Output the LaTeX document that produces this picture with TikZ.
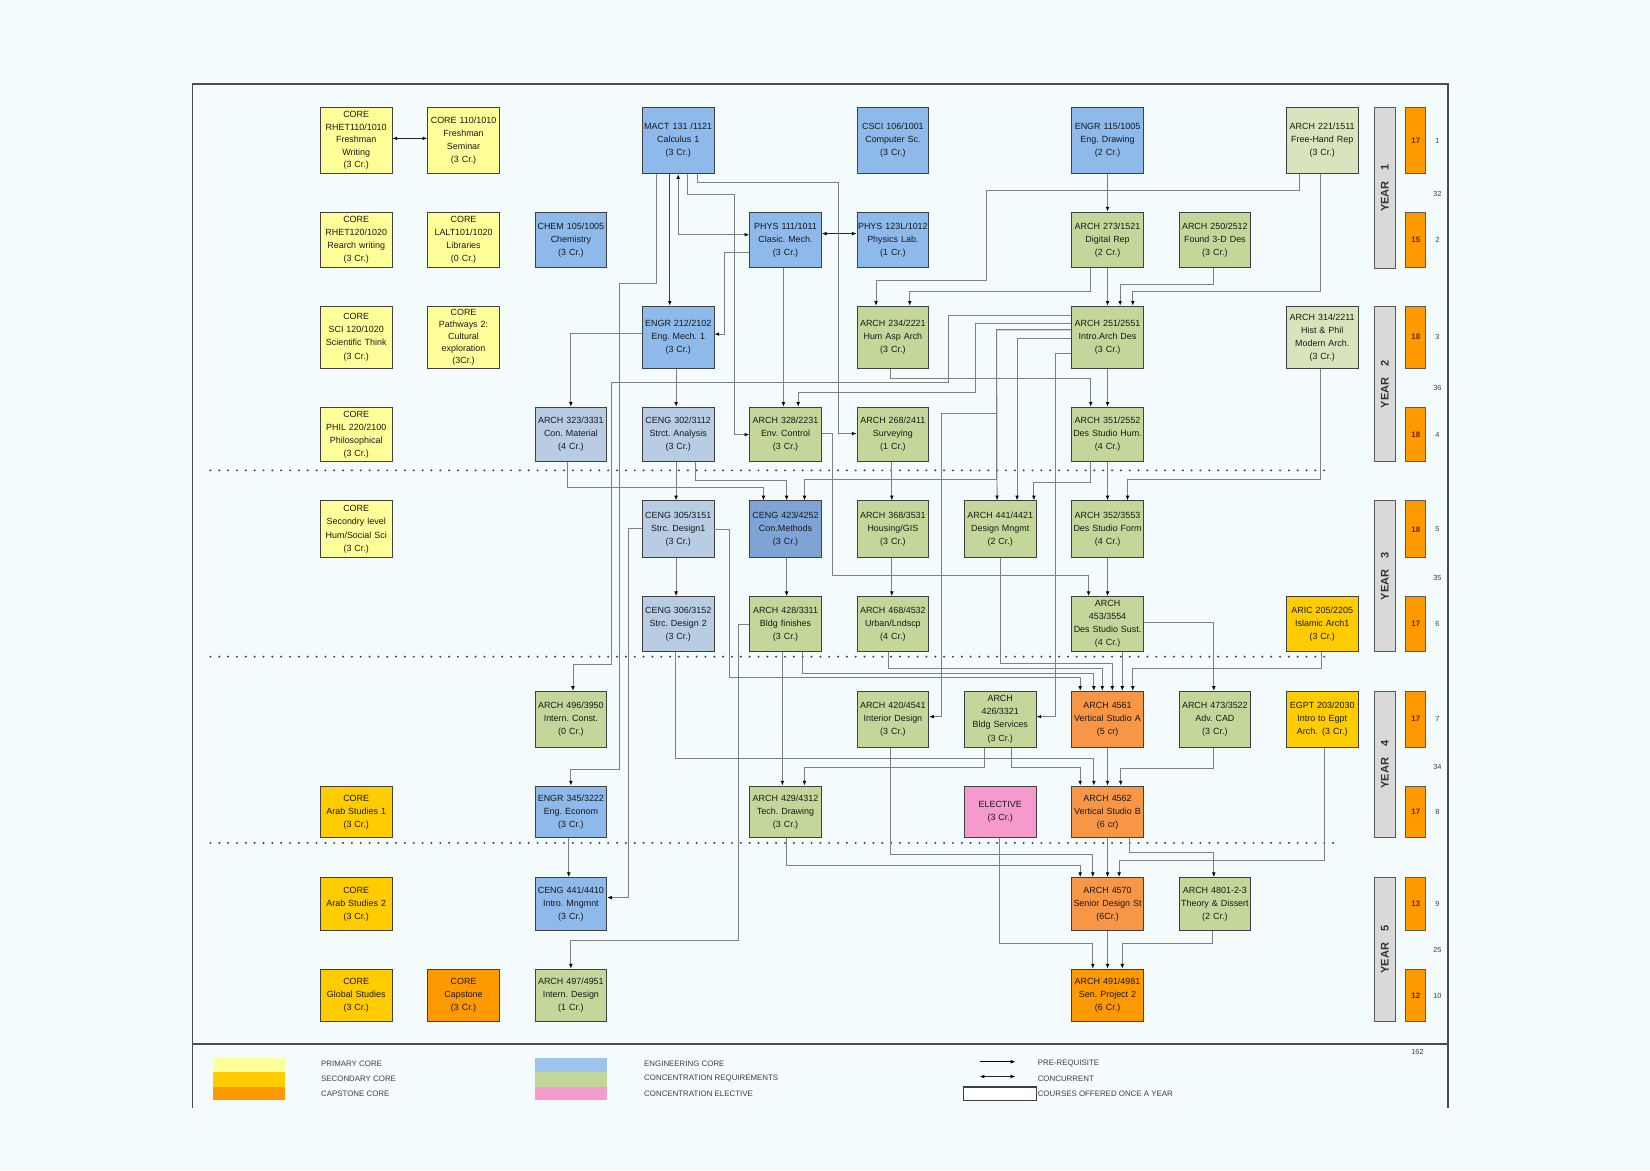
\documentclass[tikz,border=0pt]{standalone}
\usepackage{fontspec}
\setmainfont{Liberation Sans}
\usetikzlibrary{arrows.meta}
\definecolor{bgc}{RGB}{244,251,252}
\definecolor{pcol}{RGB}{255,255,153}
\definecolor{scol}{RGB}{255,204,0}
\definecolor{ccol}{RGB}{255,153,0}
\definecolor{stcol}{RGB}{247,150,70}
\definecolor{ecol}{RGB}{141,185,235}
\definecolor{lscol}{RGB}{184,204,228}
\definecolor{mbcol}{RGB}{126,164,214}
\definecolor{gcol}{RGB}{196,215,155}
\definecolor{pgcol}{RGB}{216,228,188}
\definecolor{pkcol}{RGB}{244,154,204}
\definecolor{yrcol}{RGB}{217,217,217}
\definecolor{lncol}{RGB}{128,128,128}
\definecolor{crdtxt}{RGB}{120,30,0}
\frenchspacing
\begin{document}
\begin{tikzpicture}[x=1pt,y=-1pt,font=\fontsize{8.5}{12.4}\selectfont,
  crs/.style={draw=black!75,line width=0.9pt,text width=68pt,minimum width=68pt,align=center,inner sep=0pt,text=black!90},
  pc/.style={crs,fill=pcol},sc/.style={crs,fill=scol},cc/.style={crs,fill=ccol},st/.style={crs,fill=stcol},
  ec/.style={crs,fill=ecol},ls/.style={crs,fill=lscol},mb/.style={crs,fill=mbcol},
  cr/.style={crs,fill=gcol},pg/.style={crs,fill=pgcol},el/.style={crs,fill=pkcol},
  yr/.style={draw=black!65,line width=0.9pt,fill=yrcol,minimum height=20pt,inner sep=0pt,font=\fontsize{10.5}{12}\selectfont\bfseries,text=black!80},
  crd/.style={draw=black!65,line width=0.9pt,fill=ccol,minimum width=19pt,inner sep=0pt,font=\fontsize{7.5}{8}\selectfont\bfseries,text=crdtxt},
  num/.style={inner sep=0pt,font=\fontsize{7}{8}\selectfont,text=black!75},
  lg/.style={anchor=west,inner sep=0pt,font=\fontsize{7.5}{8}\selectfont,text=black!75},
  pq/.style={draw=lncol,line width=0.9pt,-{Latex[length=4.5pt,width=3.6pt,color=black]}},
  cq/.style={draw=black!85,line width=0.9pt,{Latex[length=4.5pt,width=3.6pt,color=black]}-{Latex[length=4.5pt,width=3.6pt,color=black]}},
  dots/.style={draw=black!75,line width=2.1pt,line cap=round,dash pattern=on 0pt off 8.4pt}]
  \useasboundingbox (0,0) rectangle (1568,1112);
  \fill[bgc] (0,0) rectangle (1568,1112);
  \draw[line width=1.4pt,draw=black!70] (183,1053) -- (183,80) -- (1376,80) -- (1376,1053);
  \draw[line width=1.4pt,draw=black!70] (183,992) -- (1376,992);
  \draw[dots] (200,447) -- (1260,447);
  \draw[dots] (200,624) -- (1260,624);
  \draw[dots] (200,801) -- (1270,801);
  \node[pc,minimum height=63pt,font=\fontsize{8.5}{12}\selectfont] (a1) at (338.5,133.5){CORE\\RHET110/1010\\Freshman\\Writing\\(3 Cr.)};
  \node[pc,minimum height=63pt] (a2) at (440.5,133.5){CORE 110/1010\\Freshman\\Seminar\\(3 Cr.)};
  \node[ec,minimum height=63pt] (a4) at (644.5,133.5){MACT 131 /1121\\Calculus 1\\(3 Cr.)};
  \node[ec,minimum height=63pt] (a6) at (848.5,133.5){CSCI 106/1001\\Computer Sc.\\(3 Cr.)};
  \node[ec,minimum height=63pt] (a8) at (1052.5,133.5){ENGR 115/1005\\Eng. Drawing\\(2 Cr.)};
  \node[pg,minimum height=63pt] (a10) at (1256.5,133.5){ARCH 221/1511\\Free-Hand Rep\\(3 Cr.)};
  \node[pc,minimum height=53pt] (b1) at (338.5,228){CORE\\RHET120/1020\\Rearch writing\\(3 Cr.)};
  \node[pc,minimum height=53pt] (b2) at (440.5,228){CORE\\LALT101/1020\\Libraries\\(0 Cr.)};
  \node[ec,minimum height=53pt] (b3) at (542.5,228){CHEM 105/1005\\Chemistry\\(3 Cr.)};
  \node[ec,minimum height=53pt] (b5) at (746.5,228){PHYS 111/1011\\Clasic. Mech.\\(3 Cr.)};
  \node[ec,minimum height=53pt] (b6) at (848.5,228){PHYS 123L/1012\\Physics Lab.\\(1 Cr.)};
  \node[cr,minimum height=53pt] (b8) at (1052.5,228){ARCH 273/1521\\Digital Rep\\(2 Cr.)};
  \node[cr,minimum height=53pt] (b9) at (1154.5,228){ARCH 250/2512\\Found 3-D Des\\(3 Cr.)};
  \node[pc,minimum height=59pt] (c1) at (338.5,320.5){CORE\\SCI 120/1020\\Scientific Think\\(3 Cr.)};
  \node[pc,minimum height=59pt,font=\fontsize{8.5}{11.4}\selectfont] (c2) at (440.5,320.5){CORE\\Pathways 2:\\Cultural\\exploration\\(3Cr.)};
  \node[ec,minimum height=59pt] (c4) at (644.5,320.5){ENGR 212/2102\\Eng. Mech. 1\\(3 Cr.)};
  \node[cr,minimum height=59pt] (c6) at (848.5,320.5){ARCH 234/2221\\Hum Asp Arch\\(3 Cr.)};
  \node[cr,minimum height=59pt] (c8) at (1052.5,320.5){ARCH 251/2551\\Intro.Arch Des\\(3 Cr.)};
  \node[pg,minimum height=59pt] (c10) at (1256.5,320.5){ARCH 314/2211\\Hist \& Phil\\Modern Arch.\\(3 Cr.)};
  \node[pc,minimum height=52pt] (d1) at (338.5,413){CORE\\PHIL 220/2100\\Philosophical\\(3 Cr.)};
  \node[ls,minimum height=52pt] (d3) at (542.5,413){ARCH 323/3331\\Con. Material\\(4 Cr.)};
  \node[ls,minimum height=52pt] (d4) at (644.5,413){CENG 302/3112\\Strct. Analysis\\(3 Cr.)};
  \node[cr,minimum height=52pt] (d5) at (746.5,413){ARCH 328/2231\\Env. Control\\(3 Cr.)};
  \node[cr,minimum height=52pt] (d6) at (848.5,413){ARCH 268/2411\\Surveying\\(1 Cr.)};
  \node[cr,minimum height=52pt] (d8) at (1052.5,413){ARCH 351/2552\\Des Studio Hum.\\(4 Cr.)};
  \node[pc,minimum height=54pt] (e1) at (338.5,503){CORE\\Secondry level\\Hum/Social Sci\\(3 Cr.)};
  \node[ls,minimum height=54pt] (e4) at (644.5,503){CENG 305/3151\\Strc. Design1\\(3 Cr.)};
  \node[mb,minimum height=54pt] (e5) at (746.5,503){CENG 423/4252\\Con.Methods\\(3 Cr.)};
  \node[cr,minimum height=54pt] (e6) at (848.5,503){ARCH 368/3531\\Housing/GIS\\(3 Cr.)};
  \node[cr,minimum height=54pt] (e7) at (950.5,503){ARCH 441/4421\\Design Mngmt\\(2 Cr.)};
  \node[cr,minimum height=54pt] (e8) at (1052.5,503){ARCH 352/3553\\Des Studio Form\\(4 Cr.)};
  \node[ls,minimum height=52pt] (f4) at (644.5,593){CENG 306/3152\\Strc. Design 2\\(3 Cr.)};
  \node[cr,minimum height=52pt] (f5) at (746.5,593){ARCH 428/3311\\Bldg finishes\\(3 Cr.)};
  \node[cr,minimum height=52pt] (f6) at (848.5,593){ARCH 468/4532\\Urban/Lndscp\\(4 Cr.)};
  \node[cr,minimum height=52pt] (f8) at (1052.5,593){ARCH\\453/3554\\Des Studio Sust.\\(4 Cr.)};
  \node[sc,minimum height=52pt] (f10) at (1256.5,593){ARIC 205/2205\\Islamic Arch1\\(3 Cr.)};
  \node[cr,minimum height=53pt] (g3) at (542.5,683.5){ARCH 496/3950\\Intern. Const.\\(0 Cr.)};
  \node[cr,minimum height=53pt] (g6) at (848.5,683.5){ARCH 420/4541\\Interior Design\\(3 Cr.)};
  \node[cr,minimum height=53pt] (g7) at (950.5,683.5){ARCH\\426/3321\\Bldg Services\\(3 Cr.)};
  \node[st,minimum height=53pt] (g8) at (1052.5,683.5){ARCH 4561\\Vertical Studio A\\(5 cr)};
  \node[cr,minimum height=53pt] (g9) at (1154.5,683.5){ARCH 473/3522\\Adv. CAD\\(3 Cr.)};
  \node[sc,minimum height=53pt] (g10) at (1256.5,683.5){EGPT 203/2030\\Intro to Egpt\\Arch.\enspace(3 Cr.)};
  \node[sc,minimum height=49pt] (h1) at (338.5,771.5){CORE\\Arab Studies 1\\(3 Cr.)};
  \node[ec,minimum height=49pt] (h3) at (542.5,771.5){ENGR 345/3222\\Eng. Econom\\(3 Cr.)};
  \node[cr,minimum height=49pt] (h5) at (746.5,771.5){ARCH 429/4312\\Tech. Drawing\\(3 Cr.)};
  \node[el,minimum height=49pt] (h7) at (950.5,771.5){ELECTIVE\\(3 Cr.)};
  \node[st,minimum height=49pt] (h8) at (1052.5,771.5){ARCH 4562\\Vertical Studio B\\(6 cr)};
  \node[sc,minimum height=50pt] (i1) at (338.5,859){CORE\\Arab Studies 2\\(3 Cr.)};
  \node[ec,minimum height=50pt] (i3) at (542.5,859){CENG 441/4410\\Intro. Mngmnt\\(3 Cr.)};
  \node[st,minimum height=50pt] (i8) at (1052.5,859){ARCH 4570\\Senior Design St\\(6Cr.)};
  \node[cr,minimum height=50pt] (i9) at (1154.5,859){ARCH 4801-2-3\\Theory \& Dissert\\(2 Cr.)};
  \node[sc,minimum height=50pt] (j1) at (338.5,946){CORE\\Global Studies\\(3 Cr.)};
  \node[cc,minimum height=50pt] (j2) at (440.5,946){CORE\\Capstone\\(3 Cr.)};
  \node[cr,minimum height=50pt] (j3) at (542.5,946){ARCH 497/4951\\Intern. Design\\(1 Cr.)};
  \node[cc,minimum height=50pt] (j8) at (1052.5,946){ARCH 491/4981\\Sen. Project 2\\(6 Cr.)};
  \node[yr,rotate=90,minimum width=153pt] (y1) at (1316,178.5){YEAR\quad 1};
  \node[yr,rotate=90,minimum width=148pt] (y2) at (1316,365){YEAR\quad 2};
  \node[yr,rotate=90,minimum width=143pt] (y3) at (1316,547.5){YEAR\quad 3};
  \node[yr,rotate=90,minimum width=139pt] (y4) at (1316,726.5){YEAR\quad 4};
  \node[yr,rotate=90,minimum width=137pt] (y5) at (1316,902.5){YEAR\quad 5};
  \node[crd,minimum height=63pt] (k1) at (1345.5,133.5){17};
  \node[crd,minimum height=53pt] (k2) at (1345.5,228){15};
  \node[crd,minimum height=59pt] (k3) at (1345.5,320.5){18};
  \node[crd,minimum height=52pt] (k4) at (1345.5,413){18};
  \node[crd,minimum height=54pt] (k5) at (1345.5,503){18};
  \node[crd,minimum height=52pt] (k6) at (1345.5,593){17};
  \node[crd,minimum height=53pt] (k7) at (1345.5,683.5){17};
  \node[crd,minimum height=49pt] (k8) at (1345.5,771.5){17};
  \node[crd,minimum height=50pt] (k9) at (1345.5,859){13};
  \node[crd,minimum height=50pt] (k10) at (1345.5,946){12};
  \node[num] (n1) at (1366,133.5){1};
  \node[num] (n2) at (1366,228){2};
  \node[num] (n3) at (1366,320.5){3};
  \node[num] (n4) at (1366,413){4};
  \node[num] (n5) at (1366,503){5};
  \node[num] (n6) at (1366,593){6};
  \node[num] (n7) at (1366,683.5){7};
  \node[num] (n8) at (1366,771.5){8};
  \node[num] (n9) at (1366,859){9};
  \node[num] (n10) at (1366,946){10};
  \node[num] (s1) at (1366,184){32};
  \node[num] (s2) at (1366,369){36};
  \node[num] (s3) at (1366,549){35};
  \node[num] (s4) at (1366,729){34};
  \node[num] (s5) at (1366,903){25};
  \node[num] (tot) at (1347,1000){162};
  \draw[cq] ([yshift=2pt]a1.east) -- ([yshift=2pt]a2.west);
  \draw[cq] ([yshift=6pt]b5.east) -- ([yshift=6pt]b6.west);
  \draw[cq,draw=lncol] ([yshift=5pt]b5.west) -| (a4.south);
  \draw[pq,draw=black!75] ([xshift=-8pt]a4.south) -- ([xshift=-8pt]c4.north);
  \draw[pq] ([xshift=-21pt]a4.south) -- ++(0,104) -- ++(-35,0) |- ([yshift=15pt]h3.north) -- (h3.north);
  \draw[pq] ([yshift=-12pt]b5.west) -- ++(-24,0) |- ([yshift=3pt]c4.east);
  \draw[pq] ([xshift=18pt]a4.south) -- ++(0,8) -| ([xshift=-17pt,yshift=1pt]d6.west) -- ([yshift=1pt]d6.west);
  \draw[pq] ([xshift=9pt]a4.south) -- ++(0,19) -| ([xshift=-14pt]d5.west) -- (d5.west);
  \draw[pq] ([yshift=4pt]c4.west) -| (d3.north);
  \draw[pq] ([xshift=-2pt]c4.south) -- ([xshift=-2pt]d4.north);
  \draw[pq] ([xshift=-2pt]b5.south) -- ([xshift=-2pt]d5.north);
  \draw[pq] ([yshift=13pt]c8.west) -- ++(-91,0) -- ++(0,65) -| ([xshift=12pt]d5.north);
  \draw[pq] ([yshift=21pt]c8.west) -- ++(-117,0) -- ++(0,64) -- ++(-320,0) |- ([xshift=2pt,yshift=25pt]g3.north) -- ([xshift=2pt]g3.north);
  \draw[pq] ([yshift=7pt]c8.west) -- ++(-71,0) -- ++(0,79.5) -- ++(-52,0) |- ([yshift=2.5pt]g6.east);
  \draw[pq] ([yshift=7pt]c8.west) -- ++(-71,0) |- ([xshift=18pt,yshift=20pt]e5.north) -- ([xshift=18pt]e5.north);
  \draw[pq] ([yshift=7pt]c8.west) -- ++(-71,0) -- ([xshift=-3pt]e7.north);
  \draw[pq] ([yshift=-1.5pt]c8.west) -| ([xshift=16pt]e7.north);
  \draw[pq] ([yshift=-15.5pt]c8.west) -- ++(-15.5,0) |- ([yshift=2.5pt]g7.east);
  \draw[pq] (c8.south) -- (d8.north);
  \draw[pq] (a8.south) -- (b8.north);
  \draw[pq] (b8.south) -- (c8.north);
  \draw[pq] ([xshift=-1pt]b9.south) -- ++(0,15) -| ([xshift=12pt]c8.north);
  \draw[pq] ([xshift=-1.5pt]a10.south) -- ++(0,112) -| ([xshift=24pt]c8.north);
  \draw[pq] ([xshift=-22pt]a10.south) -- ++(0,16) -- ++(-297,0) -- ++(0,85) -| ([xshift=-16pt]c6.north);
  \draw[pq] ([xshift=-16pt]b8.south) -- ++(0,22.5) -| ([xshift=16pt]c6.north);
  \draw[pq] ([xshift=-2pt]c6.south) -- ++(0,9) -| ([xshift=-16pt]d8.north);
  \draw[pq] ([yshift=1pt]d5.east) -- ++(10,0) -- ++(0,135) -| ([xshift=-18pt]f8.north);
  \draw[pq] ([xshift=-1pt]d6.south) -- ([xshift=-1pt]e6.north);
  \draw[pq] ([xshift=-1pt]e6.south) -- ([xshift=-1pt]f6.north);
  \draw[pq] ([xshift=-3pt]d3.south) -- ++(0,24) -| ([xshift=-21pt]e5.north);
  \draw[pq] ([xshift=16pt]d4.south) -- ++(0,17) -| ([xshift=1pt]e5.north);
  \draw[pq] ([xshift=-16pt]d8.south) -- ++(0,19) -| ([xshift=32pt]e7.north);
  \draw[pq] (d8.south) -- (e8.north);
  \draw[pq] ([xshift=-1.5pt]c10.south) -- ++(0,105) -| ([xshift=19pt]e8.north);
  \draw[pq] ([xshift=-2pt]d4.south) -- ([xshift=-2pt]e4.north);
  \draw[pq] ([xshift=-2pt]e4.south) -- ([xshift=-2pt]f4.north);
  \draw[pq] ([yshift=1pt]e4.west) -- ++(-12.5,0) |- ([yshift=6pt]i3.east);
  \draw[pq] (e4.east) -- ++(14,0) -- ++(0,141) -| ([xshift=-26pt]g8.north);
  \draw[pq] ([xshift=1pt]e5.south) -- ([xshift=1pt]f5.north);
  \draw[pq] (e8.south) -- (f8.north);
  \draw[pq] ([xshift=14pt]f8.south) -- ([xshift=14pt]g8.north);
  \draw[pq] ([yshift=1pt]f8.east) -| ([xshift=-1pt]g9.north);
  \draw[pq] ([xshift=-1pt]f10.south) -- ++(0,16) -| ([xshift=24pt]g8.north);
  \draw[pq] (e7.south) -- ++(0,100) -| ([xshift=4.5pt]g8.north);
  \draw[pq] ([xshift=-4pt]f6.south) -- ++(0,16) -| ([xshift=-5pt]g8.north);
  \draw[pq] ([xshift=16pt]f5.south) -- ++(0,21) -| ([xshift=-13pt]g8.north);
  \draw[pq] ([xshift=-3pt]f5.south) -- ([xshift=-3pt]h5.north);
  \draw[pq] (f5.west) -- ++(-10,0) -- ++(0,301) -| (j3.north);
  \draw[pq] ([xshift=-15pt]g7.south) -- ++(0,19) -| ([xshift=18pt]h5.north);
  \draw[pq] ([xshift=11pt]g7.south) -- ++(0,19) -| ([xshift=-26pt]h8.north);
  \draw[pq] ([xshift=-3pt]f4.south) -- ++(0,101) -| ([xshift=-13pt]h8.north);
  \draw[pq] (g8.south) -- (h8.north);
  \draw[pq] ([xshift=-1pt]g9.south) -- ++(0,20) -| ([xshift=12.5pt]h8.north);
  \draw[pq] ([xshift=-2pt]h3.south) -- ([xshift=-2pt]i3.north);
  \draw[pq] (h8.south) -- (i8.north);
  \draw[pq] ([xshift=21pt]h8.south) -- ++(0,14) -| ([xshift=-1pt]i9.north);
  \draw[pq] ([xshift=1pt]h5.south) -- ++(0,26) -| ([xshift=-26pt]i8.north);
  \draw[pq] ([xshift=-2pt]g6.south) -- ++(0,102) -| ([xshift=-14pt]i8.north);
  \draw[pq] ([xshift=2pt]g10.south) -- ++(0,107) -| ([xshift=11pt]i8.north);
  \draw[pq] (i8.south) -- (j8.north);
  \draw[pq] ([xshift=-1pt]h7.south) -- ++(0,100) -| ([xshift=-14pt]j8.north);
  \draw[pq] ([xshift=-2pt]i9.south) -- ++(0,12) -| ([xshift=14pt]j8.north);
  \fill[pcol] (202,1005) rectangle (271,1019);
  \fill[scol] (202,1019) rectangle (271,1033);
  \fill[ccol] (202,1033) rectangle (271,1045);
  \fill[ecol!85] (508,1005) rectangle (577,1019);
  \fill[gcol] (508,1019) rectangle (577,1033);
  \fill[pkcol] (508,1033) rectangle (577,1045);
  \node[lg] (l1) at (305,1011){PRIMARY CORE};
  \node[lg] (l2) at (305,1025){SECONDARY CORE};
  \node[lg] (l3) at (305,1039){CAPSTONE CORE};
  \node[lg] (l4) at (612,1011){ENGINEERING CORE};
  \node[lg] (l5) at (612,1025){CONCENTRATION REQUIREMENTS};
  \node[lg] (l6) at (612,1039){CONCENTRATION ELECTIVE};
  \coordinate (pa) at (931,1009);
  \coordinate (pb) at (965,1009);
  \coordinate (ca) at (931,1023);
  \coordinate (cb) at (965,1023);
  \draw[draw=black,line width=0.9pt,-{Latex[length=4.5pt,width=3.6pt]}] (pa) -- (pb);
  \draw[cq] (ca) -- (cb);
  \node[draw=black!75,line width=1.1pt,fill=white,minimum width=69pt,minimum height=13pt,inner sep=0pt] (lbox) at (950.5,1039.5){};
  \node[lg] (l7) at (986,1011){PRE-REQUISITE};
  \node[lg] (l8) at (986,1025){CONCURRENT};
  \node[lg] (l9) at (986,1039){COURSES OFFERED ONCE A YEAR};
\end{tikzpicture}
\end{document}
